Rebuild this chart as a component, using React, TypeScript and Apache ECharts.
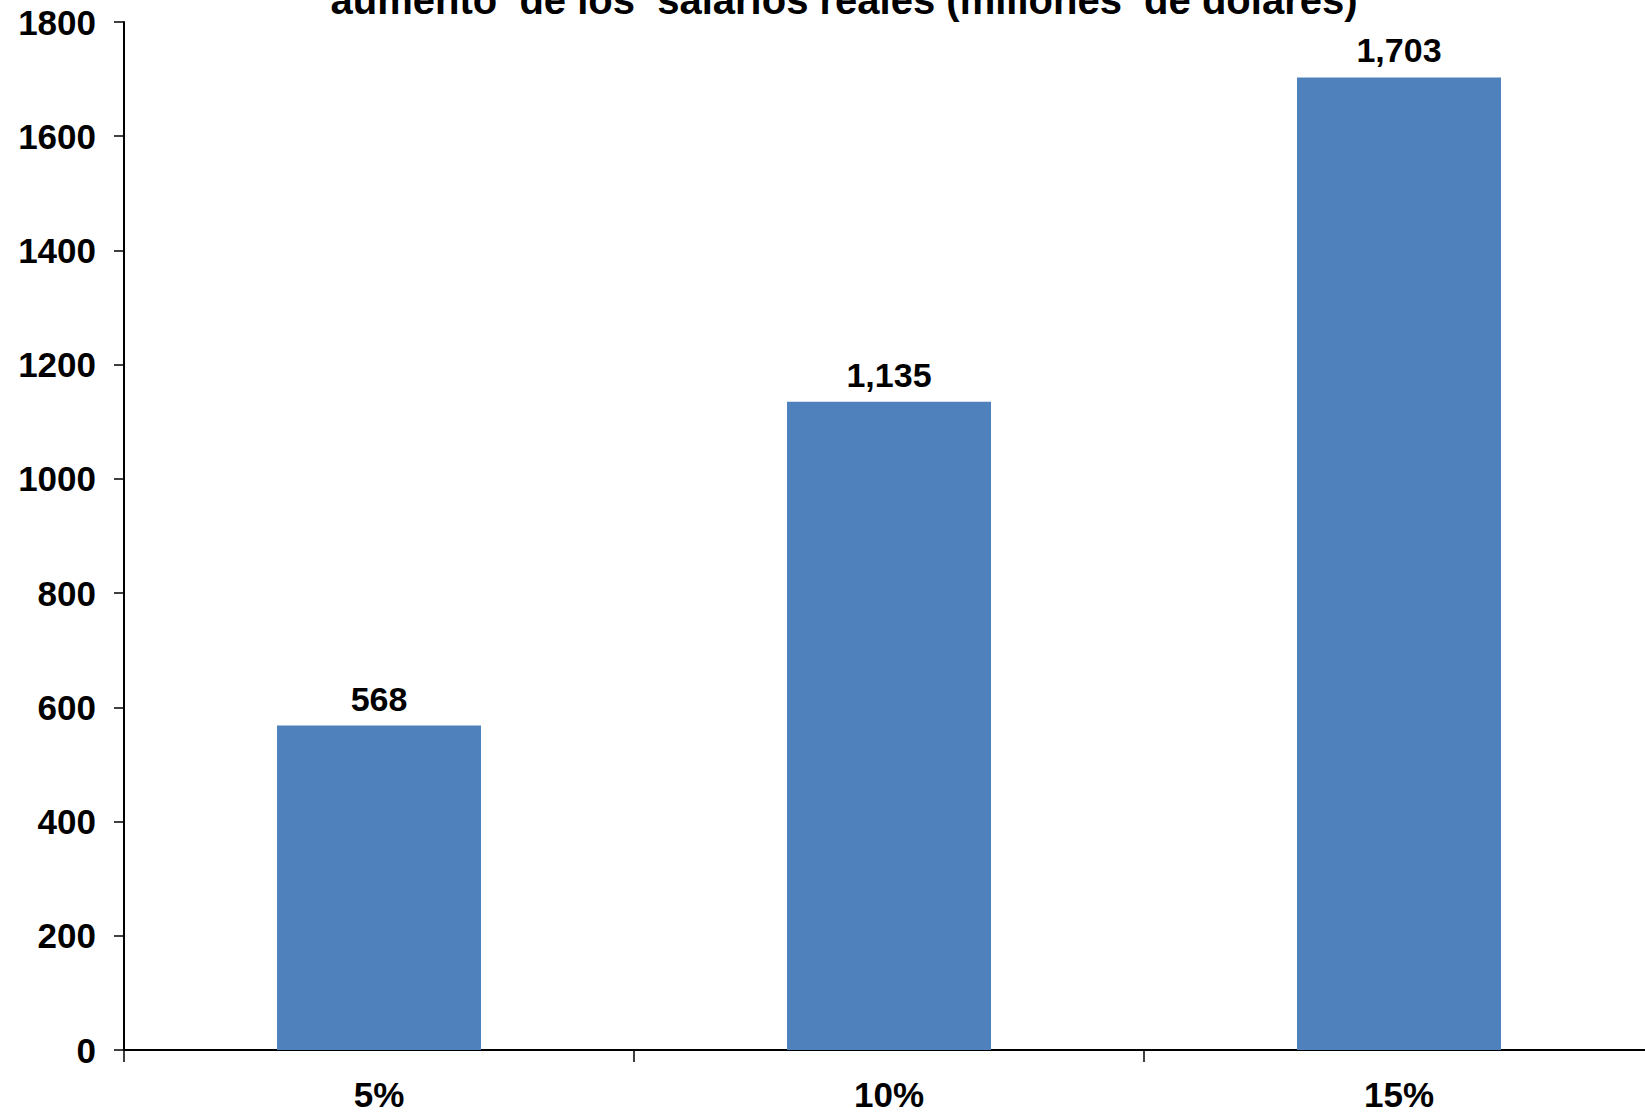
import React, { useEffect, useRef } from "react";
import * as echarts from "echarts";

const categories = ["5%", "10%", "15%"];
const values = [568, 1135, 1703];
const valueLabels = ["568", "1,135", "1,703"];
const titleText = "aumento  de los  salarios reales (millones  de dólares)";

export default function App() {
  const ref = useRef<HTMLDivElement>(null);
  useEffect(() => {
    document.body.style.margin = "0";
    document.body.style.overflow = "hidden";
    document.documentElement.style.overflow = "hidden";
    const chart = echarts.init(ref.current!, null, { renderer: "svg" });
    const font = "'Liberation Sans', Arial, sans-serif";
    chart.setOption({
      animation: false,
      backgroundColor: "#ffffff",
      grid: { left: 124, top: 22, bottom: 62, right: 0, containLabel: false },
      graphic: [
        {
          type: "text",
          x: 844,
          y: 0,
          style: {
            text: titleText,
            fontFamily: font,
            fontWeight: "bold",
            fontSize: 40,
            fill: "#000",
            textAlign: "center",
            textVerticalAlign: "middle",
          },
        },
      ],
      xAxis: {
        type: "category",
        data: categories,
        axisLine: { lineStyle: { color: "#000", width: 2 } },
        axisTick: { show: true, alignWithLabel: false, length: 12, lineStyle: { color: "#000", width: 1.5 } },
        axisLabel: { color: "#000", fontFamily: font, fontWeight: "bold", fontSize: 35, margin: 27 },
      },
      yAxis: {
        type: "value",
        min: 0,
        max: 1800,
        interval: 200,
        splitLine: { show: false },
        axisLine: { show: true, lineStyle: { color: "#000", width: 2 } },
        axisTick: { show: true, length: 10, lineStyle: { color: "#000", width: 1.5 } },
        axisLabel: {
          color: "#000",
          fontFamily: font,
          fontWeight: "bold",
          fontSize: 35,
          margin: 28,
          formatter: (v: number) => String(v),
        },
      },
      series: [
        {
          type: "bar",
          data: values,
          barWidth: "40%",
          itemStyle: { color: "#4F81BD" },
          label: {
            show: true,
            position: "top",
            distance: 10,
            color: "#000",
            fontFamily: font,
            fontWeight: "bold",
            fontSize: 34,
            formatter: (p: any) => valueLabels[p.dataIndex],
          },
        },
      ],
    });
    return () => chart.dispose();
  }, []);
  return <div ref={ref} style={{ width: 1654, height: 1112 }} />;
}
